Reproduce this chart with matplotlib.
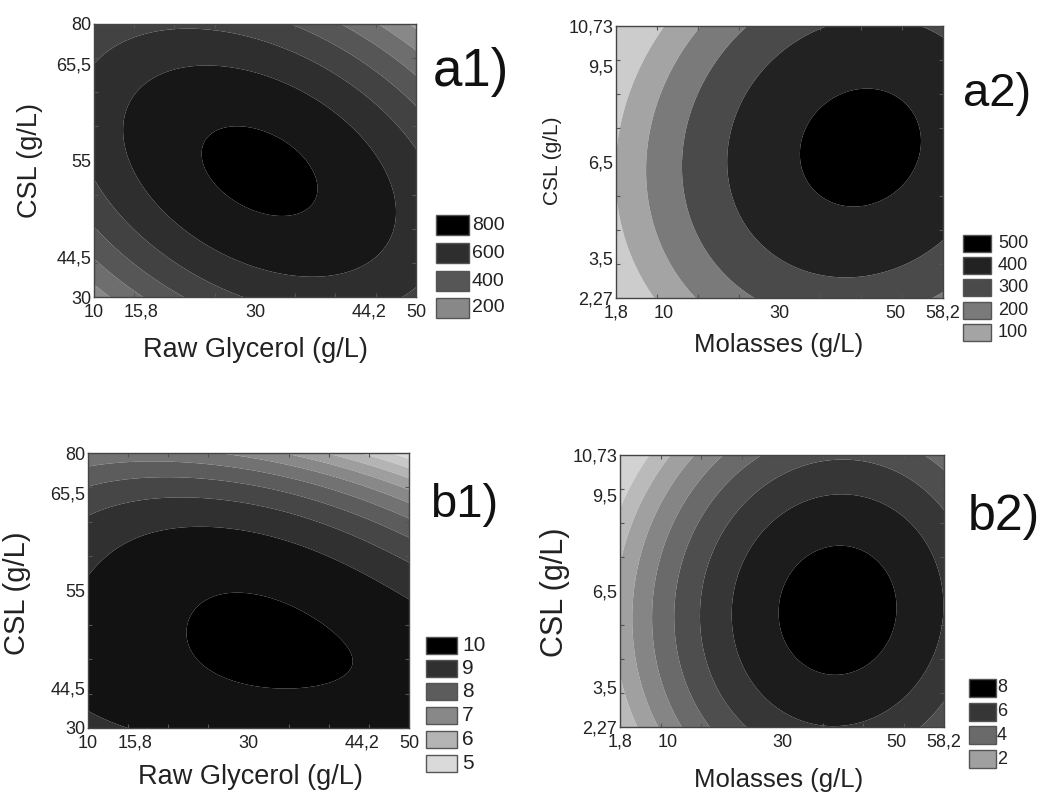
import numpy as np
import matplotlib
matplotlib.use("Agg")
import matplotlib.pyplot as plt
from matplotlib.patches import Rectangle

plt.rcParams['font.family'] = ['Liberation Sans', 'DejaVu Sans']

W, H = 1050, 796
ALPHA = 1.414

# ---- axis ticks: coded design positions and real-unit labels ----
coded_ticks = [-1.414, -1, 0, 1, 1.414]
glycerol_labels = ["10", "15,8", "30", "44,2", "50"]
csl1_labels = ["30", "44,5", "55", "65,5", "80"]
molasses_labels = ["1,8", "10", "30", "50", "58,2"]
csl2_labels = ["2,27", "3,5", "6,5", "9,5", "10,73"]

# ---- response surfaces (coded units): peak value, peak location and
#      penalty coefficients for the terms dx^i * dy^j listed in term_powers ----
term_powers = [(2, 0), (0, 2), (1, 1), (2, 1), (1, 2), (2, 2), (1, 3), (2, 3), (0, 4)]

a1_peak = 822
a1_center = [0.04, -0.11]
a1_coef = [100, 120, 85, 0, 0, 0, 0, 0, 0]
a1_levels = [0, 100, 200, 300, 400, 500, 600, 700, 800]
a1_colors = ["#dedede", "#c8c8c8", "#a6a6a6", "#888888", "#6e6e6e",
             "#565656", "#424242", "#2e2e2e", "#171717", "#000000"]
a1_legend = [800, 600, 400, 200]

a2_peak = 526
a2_center = [0.70, 0.15]
a2_coef = [96, 70, -18, 0, 0, 0, 0, 0, 0]
a2_levels = [100, 200, 300, 400, 500]
a2_colors = ["#cccccc", "#a4a4a4", "#7a7a7a", "#4a4a4a", "#222222", "#000000"]
a2_legend = [500, 400, 300, 200, 100]

b1_peak = 10.08
b1_center = [0.15, -0.53]
b1_coef = [0.17, 0.341, 0.1648, 0.1291, 0.1522, 0.0744, 0.01386, -0.0313, 0.114]
b1_levels = [5, 5.5, 6, 6.5, 7, 7.5, 8, 8.5, 9, 9.5, 10]
b1_colors = ["#e8e8e8", "#dadada", "#c8c8c8", "#b4b4b4", "#9e9e9e", "#888888",
             "#727272", "#5c5c5c", "#464646", "#303030", "#121212", "#000000"]
b1_legend = [10, 9, 8, 7, 6, 5]

b2_peak = 8.45
b2_center = [0.485, -0.20]
b2_coef = [1.7, 1.0, -0.1, 0, 0, 0, 0, 0, 0]
b2_levels = [1, 2, 3, 4, 5, 6, 7, 8]
b2_colors = ["#d2d2d2", "#bababa", "#a0a0a0", "#858585", "#6a6a6a",
             "#4e4e4e", "#363636", "#1c1c1c", "#000000"]
b2_legend = [8, 6, 4, 2]


def surface(peak, center, coef, X, Y):
    dx = X - center[0]
    dy = Y - center[1]
    pen = np.zeros_like(X)
    for k, (i, j) in zip(coef, term_powers):
        pen += k * dx**i * dy**j
    return peak - pen


def px_rect(l, t, r, b):
    return [l / W, 1 - b / H, (r - l) / W, (b - t) / H]


fig = plt.figure(figsize=(W / 100, H / 100), dpi=100)
fig.patch.set_facecolor("white")

g = np.linspace(-ALPHA, ALPHA, 400)
X, Y = np.meshgrid(g, g)

panels = [
    dict(rect=(94, 24, 416, 297), peak=a1_peak, center=a1_center, coef=a1_coef,
         levels=a1_levels, colors=a1_colors, legend=a1_legend,
         xl=glycerol_labels, yl=csl1_labels,
         xlabel="Raw Glycerol (g/L)", xlab_pos=(255, 350), xfs=19.5,
         ylabel="CSL (g/L)", ylab_pos=(30, 161), yfs=19.5,
         tag="a1)", tag_pos=(433, 72), tagfs=38,
         leg_x=436, leg_w=33, leg_tops=[215, 243, 271, 298], leg_h=20,
         leg_tx=472, leg_fs=14),
    dict(rect=(616, 26, 943, 298), peak=a2_peak, center=a2_center, coef=a2_coef,
         levels=a2_levels, colors=a2_colors, legend=a2_legend,
         xl=molasses_labels, yl=csl2_labels,
         xlabel="Molasses (g/L)", xlab_pos=(779, 345), xfs=18.5,
         ylabel="CSL (g/L)", ylab_pos=(553, 161), yfs=15,
         tag="a2)", tag_pos=(963, 94), tagfs=34,
         leg_x=963, leg_w=28, leg_tops=[235, 257, 279, 302, 324], leg_h=17,
         leg_tx=998, leg_fs=13),
    dict(rect=(88, 453, 409, 728), peak=b1_peak, center=b1_center, coef=b1_coef,
         levels=b1_levels, colors=b1_colors, legend=b1_legend,
         xl=glycerol_labels, yl=csl1_labels,
         xlabel="Raw Glycerol (g/L)", xlab_pos=(250, 777), xfs=19.5,
         ylabel="CSL (g/L)", ylab_pos=(17, 593), yfs=21,
         tag="b1)", tag_pos=(430, 505), tagfs=34,
         leg_x=426, leg_w=31, leg_tops=[637, 660, 683, 707, 731, 755], leg_h=17,
         leg_tx=462, leg_fs=15),
    dict(rect=(620, 455, 944, 727), peak=b2_peak, center=b2_center, coef=b2_coef,
         levels=b2_levels, colors=b2_colors, legend=b2_legend,
         xl=molasses_labels, yl=csl2_labels,
         xlabel="Molasses (g/L)", xlab_pos=(779, 780), xfs=18.5,
         ylabel="CSL (g/L)", ylab_pos=(555, 592), yfs=22,
         tag="b2)", tag_pos=(968, 517), tagfs=36,
         leg_x=969, leg_w=27, leg_tops=[679, 703, 726, 750], leg_h=18,
         leg_tx=997, leg_fs=13),
]

for p in panels:
    ax = fig.add_axes(px_rect(*p["rect"]))
    Z = surface(p["peak"], p["center"], p["coef"], X, Y)
    lv = [-1e9] + list(p["levels"]) + [1e9]
    ax.contourf(X, Y, Z, levels=lv, colors=p["colors"], antialiased=True)
    ax.set_xlim(-ALPHA, ALPHA)
    ax.set_ylim(-ALPHA, ALPHA)
    ax.set_xticks(coded_ticks, p["xl"])
    ax.set_yticks(coded_ticks, p["yl"])
    ax.set_xticks(np.linspace(-ALPHA, ALPHA, 9), minor=True)
    ax.set_yticks(np.linspace(-ALPHA, ALPHA, 9), minor=True)
    ax.tick_params(which="major", length=0, labelsize=13, labelcolor="#222222")
    ax.tick_params(axis="x", which="major", pad=5)
    ax.tick_params(axis="y", which="major", pad=2)
    ax.tick_params(which="minor", direction="in", length=3, width=0.8, color="#555555",
                   top=True, right=True)
    for s in ax.spines.values():
        s.set_color("#444444")
        s.set_linewidth(1.0)

    fig.text(p["xlab_pos"][0] / W, 1 - p["xlab_pos"][1] / H, p["xlabel"],
             ha="center", va="center", fontsize=p["xfs"], color="#222222")
    fig.text(p["ylab_pos"][0] / W, 1 - p["ylab_pos"][1] / H, p["ylabel"],
             ha="center", va="center", rotation=90, fontsize=p["yfs"], color="#222222")
    fig.text(p["tag_pos"][0] / W, 1 - p["tag_pos"][1] / H, p["tag"],
             ha="left", va="center", fontsize=p["tagfs"], color="#111111")

    # legend boxes
    for val, top in zip(p["legend"], p["leg_tops"]):
        idx = list(p["levels"]).index(val) + 1
        col = p["colors"][idx]
        r = Rectangle((p["leg_x"] / W, 1 - (top + p["leg_h"]) / H),
                      p["leg_w"] / W, p["leg_h"] / H, transform=fig.transFigure,
                      facecolor=col, edgecolor="#555555", linewidth=1.0)
        fig.add_artist(r)
        fig.text(p["leg_tx"] / W, 1 - (top + p["leg_h"] / 2) / H, f"{val}",
                 ha="left", va="center", fontsize=p["leg_fs"], color="#222222")

fig.savefig("out.png", dpi=100, facecolor="white")
